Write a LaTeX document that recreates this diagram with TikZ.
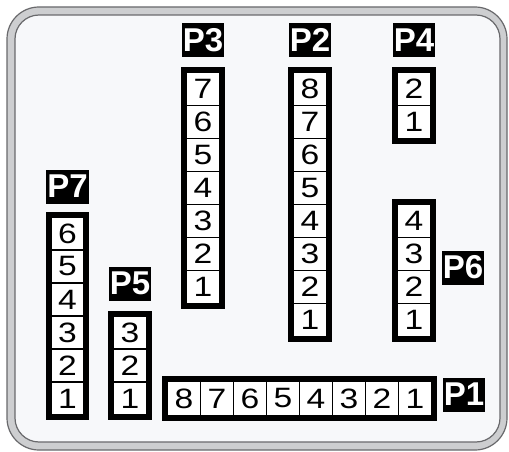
\documentclass[tikz,border=0pt]{standalone}
\usepackage{fontspec}
\setmainfont{Liberation Sans}
\usepackage{graphicx}
\usetikzlibrary{positioning,fit}
\definecolor{panelfill}{RGB}{247,248,250}
\definecolor{rimgray}{RGB}{205,206,208}
\definecolor{rimline}{RGB}{105,105,108}
\newcommand\pinnum[1]{\scalebox{1.2}[1]{#1}}
\tikzset{
  pincell/.style={draw=black,line width=1.5pt,fill=white,minimum width=33pt,minimum height=33pt,inner sep=0pt,font=\fontsize{28}{28}\selectfont},
  hpincell/.style={pincell,minimum height=34pt},
  housing/.style={draw=black,line width=4.5pt,inner sep=2.25pt},
  tag/.style={fill=black,text=white,font=\fontsize{33}{33}\selectfont\bfseries,minimum width=42pt,minimum height=34pt,inner sep=1pt},
}

\begin{document}
\begin{tikzpicture}[x=1pt,y=-1pt]
  \useasboundingbox[fill=white] (0,0) rectangle (509,452);
  % case
  \draw[rimline,fill=rimgray,line width=1.2pt,rounded corners=32pt] (7,7) rectangle (507,450);
  \draw[rimline,fill=panelfill,line width=1.2pt,rounded corners=24pt] (15,15) rectangle (500,442);
  % P3
  \foreach \i [count=\k from 0] in {7,...,1}
    \node[pincell] (p3-\i) at (203,89+33*\k) {\pinnum{\i}};
  \node[housing,fit=(p3-7)(p3-1)] (p3) {};
  \node[tag,above=10pt of p3] (p3tag) {P3};
  % P2
  \foreach \i [count=\k from 0] in {8,...,1}
    \node[pincell] (p2-\i) at (310,89+33*\k) {\pinnum{\i}};
  \node[housing,fit=(p2-8)(p2-1)] (p2) {};
  \node[tag,above=10pt of p2] (p2tag) {P2};
  % P4
  \foreach \i [count=\k from 0] in {2,1}
    \node[pincell] (p4-\i) at (414,89+33*\k) {\pinnum{\i}};
  \node[housing,fit=(p4-2)(p4-1)] (p4) {};
  \node[tag,above=10pt of p4] (p4tag) {P4};
  % P6
  \foreach \i [count=\k from 0] in {4,...,1}
    \node[pincell] (p6-\i) at (414,221+33*\k) {\pinnum{\i}};
  \node[housing,fit=(p6-4)(p6-1)] (p6) {};
  \node[tag,right=6pt of p6,yshift=3pt] (p6tag) {P6};
  % P7
  \foreach \i [count=\k from 0] in {6,...,1}
    \node[pincell] (p7-\i) at (67.5,233.5+33*\k) {\pinnum{\i}};
  \node[housing,fit=(p7-6)(p7-1)] (p7) {};
  \node[tag,above=8pt of p7] (p7tag) {P7};
  % P5
  \foreach \i [count=\k from 0] in {3,2,1}
    \node[pincell] (p5-\i) at (130,332.5+33*\k) {\pinnum{\i}};
  \node[housing,fit=(p5-3)(p5-1)] (p5) {};
  \node[tag,above=10pt of p5] (p5tag) {P5};
  % P1
  \foreach \i [count=\k from 0] in {8,...,1}
    \node[hpincell] (p1-\i) at (184+33*\k,398.5) {\pinnum{\i}};
  \node[housing,fit=(p1-8)(p1-1)] (p1) {};
  \node[tag,right=6pt of p1,yshift=4pt] (p1tag) {P1};
\end{tikzpicture}
\end{document}
